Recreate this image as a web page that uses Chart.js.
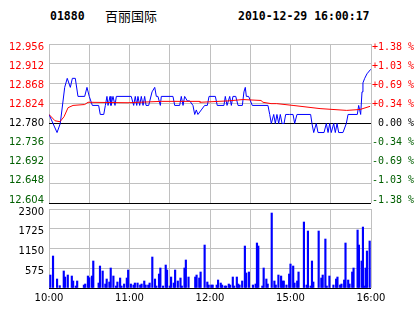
<html>
  <head>
    <title>01880</title>
    <style>
      body { margin: 0; background: #fff; }
      #wrap { position: relative; width: 414px; height: 314px; overflow: hidden; }
      .hdr {
        position: absolute; top: 9px; line-height: 15px;
        font-family: "DejaVu Sans Mono", monospace; font-weight: bold; font-size: 11.5px;
        color: #000; white-space: nowrap;
      }
      .name {
        position: absolute; top: 8px; left: 105px; line-height: 16px;
        font-family: "Noto Sans CJK SC", sans-serif; font-size: 13px; color: #000;
      }
      canvas { position: absolute; left: 0; }
      #priceChart { top: 0; }
      #volChart { top: 195px; }
    </style>
    <script src="https://cdn.jsdelivr.net/npm/chart.js"></script>
  </head>
  <body>
    <div id="wrap">
      <div class="hdr" style="left:50px">01880</div>
      <div class="name">百丽国际</div>
      <div class="hdr" style="left:238px">2010-12-29 16:00:17</div>
      <canvas id="priceChart" width="414" height="215"></canvas>
      <canvas id="volChart" width="414" height="119"></canvas>
    </div>

    <script>
      // trading minutes from 10:00 (0) to 16:00 (240), lunch break removed
      const prevClose = 12.78;
      const priceTicks = [12.604, 12.648, 12.692, 12.736, 12.780, 12.824, 12.868, 12.912, 12.956];
      const pctLabels = ["-1.38 %", "-1.03 %", "-0.69 %", "-0.34 %", " 0.00 %", "+0.34 %", "+0.69 %", "+1.03 %", "+1.38 %"];
      const timeTicks = [0, 60, 120, 180, 240];
      const timeLabels = ["10:00", "11:00", "12:00", "15:00", "16:00"];
      const volTicks = [0, 575, 1150, 1725, 2300];

      // price line (minute, price)
      const priceMin = [0, 6, 8.4, 11.7, 13.6, 15.9, 17.4, 19.6, 21.6, 26.6, 28.3, 30, 32.3, 37, 38.2, 40.8, 42, 43.2, 44, 45.5, 46.2, 47.7, 49.2, 50.2,
        61.3, 63.1, 64.3, 65.4, 66.3, 67.6, 68.8, 70.1, 71.3, 72.3, 74.3, 76.8, 78.8, 80, 81.2, 83, 83.7, 92.4, 93.7, 97.4, 98.6, 99.9, 101.1,
        103.1, 104.9, 107.3, 108.6, 109.8, 111, 113.5, 116, 118, 119.3, 124, 125.4, 130.4, 131.4, 132.7, 134.7, 135.9, 137.1, 139.2, 140.9,
        144.1, 145.3, 146.3, 147.1, 148.8, 151.5, 163.2, 164.5, 165.7, 167.5, 168.7, 169.9, 171.2, 172.4, 173.7, 175.2, 176.4, 179.4, 181.9,
        183.1, 184.8, 195, 196, 197.3, 199.2, 200.5, 205, 206.7, 208, 209.2, 210.4, 212.2, 213.4, 214.7, 215.9, 219.1, 221.6, 222.9, 229.8,
        230.8, 232.3, 233.3, 234, 235.3, 237, 239.8];
      const priceVal = [12.80, 12.76, 12.78, 12.86, 12.88, 12.86, 12.88, 12.88, 12.84, 12.84, 12.86, 12.84, 12.82, 12.82, 12.80, 12.80, 12.82, 12.84, 12.82, 12.84, 12.82, 12.84, 12.82, 12.84,
        12.84, 12.82, 12.84, 12.82, 12.84, 12.82, 12.84, 12.82, 12.84, 12.82, 12.82, 12.85, 12.86, 12.84, 12.84, 12.82, 12.84, 12.84, 12.82, 12.82, 12.84, 12.82, 12.84,
        12.83, 12.83, 12.82, 12.80, 12.81, 12.80, 12.81, 12.82, 12.82, 12.84, 12.84, 12.82, 12.82, 12.84, 12.82, 12.84, 12.82, 12.84, 12.84, 12.82,
        12.82, 12.85, 12.86, 12.84, 12.84, 12.82, 12.82, 12.80, 12.78, 12.80, 12.78, 12.80, 12.78, 12.80, 12.78, 12.78, 12.80, 12.80, 12.80,
        12.78, 12.80, 12.80, 12.78, 12.76, 12.78, 12.76, 12.76, 12.78, 12.76, 12.78, 12.76, 12.78, 12.76, 12.78, 12.76, 12.76, 12.78, 12.80, 12.80,
        12.82, 12.80, 12.85, 12.87, 12.88, 12.89, 12.90];

      // average price line (minute, price)
      const avgMin = [0, 4.5, 8.2, 11.2, 14.2, 17.9, 26.6, 29.1, 58.9, 83.7, 112.3, 112.5, 133.4, 144.6, 158, 159.5, 165.5, 169.7, 181.9, 202, 221.9, 231.8, 239.3];
      const avgVal = [12.80, 12.786, 12.784, 12.795, 12.815, 12.82, 12.822, 12.827, 12.826, 12.829, 12.829, 12.827, 12.83, 12.833, 12.831, 12.827, 12.824, 12.824, 12.82, 12.813, 12.809, 12.811, 12.818];

      // volume bars (minute, shares)
      const volMin = [1, 3, 6, 8, 11, 12, 14, 17, 18, 20, 21, 26, 27, 29, 30, 32, 33, 37, 38, 40, 42, 43, 45, 46, 48, 50, 51, 53, 54, 56, 58, 59,
        61, 63, 64, 66, 68, 69, 71, 72, 74, 75, 77, 79, 80, 82, 83, 85, 87, 88, 90, 91, 93, 94, 96, 98, 99, 101, 102, 104, 109, 110, 112, 113,
        116, 118, 119, 121, 122, 125, 126, 128, 129, 131, 132, 134, 135, 137, 138, 140, 141, 142, 144, 146, 147, 149, 152, 154, 155, 156, 159,
        160, 162, 163, 166, 168, 169, 171, 173, 174, 175, 177, 179, 180, 182, 183, 185, 186, 190, 192, 193, 195, 196, 197, 201, 203, 204, 206,
        207, 209, 212, 214, 215, 217, 218, 220, 221, 223, 224, 226, 227, 230, 231, 233, 234, 235, 236, 237, 239];
      const volVal = [378, 931, 262, 68, 495, 320, 378, 349, 204, 58, 204, 87, 116, 349, 300, 349, 786, 145, 640, 495, 116, 262, 175, 582, 349, 58, 175, 291, 58, 116, 291, 524,
        116, 87, 145, 145, 87, 116, 204, 87, 87, 145, 902, 262, 58, 407, 582, 58, 669, 524, 58, 320, 145, 524, 204, 291, 58, 582, 815, 320, 320, 378, 291, 466,
        1251, 175, 87, 87, 87, 87, 233, 145, 87, 58, 58, 116, 87, 320, 58, 320, 116, 87, 204, 1222, 437, 466, 87, 116, 1310, 1222, 58,
        582, 262, 116, 2183, 204, 87, 378, 349, 204, 204, 87, 407, 698, 640, 145, 204, 466, 1921, 87, 1659, 58, 786, 175, 1659, 291, 378, 1426,
        58, 349, 87, 262, 320, 87, 116, 233, 1310, 233, 116, 466, 582, 1688, 1251, 786, 1775, 58, 582, 1077, 1368];

      const gridGray = "#c0c0c0";
      const upRed = "#ff0000";
      const downGreen = "#005f00";
      const near = (a, b) => Math.abs(a - b) < 1e-6;
      // labels sit a little inside the panel: a slightly wider range for the label axes
      const labelMin = 12.5971;
      const labelMax = 12.9629;

      function tickColor(v) {
        if (near(v, prevClose)) return "#000";
        return v > prevClose ? upRed : downGreen;
      }

      const xAxisBase = {
        type: "linear",
        min: 0,
        max: 240,
        offset: false,
        grid: { color: gridGray, drawTicks: false, offset: false },
        border: { display: false }
      };

      const setPriceTicks = (s) => { s.ticks = priceTicks.map((v) => ({ value: v })); };

      new Chart(document.getElementById("priceChart"), {
        type: "line",
        data: {
          datasets: [
            {
              data: avgMin.map((m, i) => ({ x: m, y: avgVal[i] })),
              borderColor: "#ff0000",
              borderWidth: 1,
              pointRadius: 0,
              tension: 0
            },
            {
              data: priceMin.map((m, i) => ({ x: m, y: priceVal[i] })),
              borderColor: "#0000ff",
              borderWidth: 1,
              pointRadius: 0,
              tension: 0
            }
          ]
        },
        options: {
          responsive: false,
          animation: false,
          devicePixelRatio: 1,
          layout: { padding: { top: 44, bottom: 12, left: 0, right: 0 } },
          plugins: { legend: { display: false }, tooltip: { enabled: false } },
          scales: {
            x: Object.assign({}, xAxisBase, {
              ticks: { display: false, stepSize: 30 },
              afterFit: (s) => { s.height = 0; }
            }),
            y: {
              position: "left",
              min: 12.604,
              max: 12.956,
              afterBuildTicks: setPriceTicks,
              afterFit: (s) => { s.width = 0; },
              grid: {
                drawTicks: false,
                color: (ctx) => {
                  const v = ctx.tick ? ctx.tick.value : 0;
                  return near(v, prevClose) || near(v, 12.604) ? "#000" : gridGray;
                }
              },
              border: { display: false },
              ticks: { display: false }
            },
            yl: {
              position: "left",
              min: labelMin,
              max: labelMax,
              afterBuildTicks: setPriceTicks,
              afterFit: (s) => { s.width = 49; },
              grid: { display: false, drawTicks: false },
              border: { display: false },
              ticks: {
                padding: 5,
                font: { family: "DejaVu Sans", size: 10 },
                color: (ctx) => tickColor(ctx.tick.value),
                callback: (v) => Number(v).toFixed(3)
              }
            },
            y2: {
              position: "right",
              min: labelMin,
              max: labelMax,
              afterBuildTicks: setPriceTicks,
              afterFit: (s) => { s.width = 43; },
              grid: { display: false, drawTicks: false },
              border: { display: false },
              ticks: {
                padding: 1,
                font: { family: "DejaVu Sans Mono", size: 10 },
                color: (ctx) => tickColor(ctx.tick.value),
                callback: (v, i) => pctLabels[i]
              }
            }
          }
        }
      });

      new Chart(document.getElementById("volChart"), {
        type: "bar",
        data: {
          datasets: [
            {
              data: volMin.map((m, i) => ({ x: m, y: volVal[i] })),
              backgroundColor: "#0000ff",
              barThickness: 1.5
            }
          ]
        },
        options: {
          responsive: false,
          animation: false,
          devicePixelRatio: 1,
          layout: { padding: { top: 14, bottom: 0, left: 0, right: 43 } },
          plugins: { legend: { display: false }, tooltip: { enabled: false } },
          scales: {
            x: Object.assign({}, xAxisBase, {
              afterFit: (s) => { s.height = 26; },
              ticks: {
                stepSize: 30,
                autoSkip: false,
                maxRotation: 0,
                padding: 4,
                color: "#000",
                font: { family: "DejaVu Sans", size: 10 },
                callback: (v) => {
                  const i = timeTicks.indexOf(v);
                  return i >= 0 ? timeLabels[i] : "";
                }
              }
            }),
            y: {
              min: 0,
              max: 2300,
              afterBuildTicks: (s) => { s.ticks = volTicks.map((v) => ({ value: v })); },
              afterFit: (s) => { s.width = 49; },
              grid: {
                drawTicks: false,
                color: (ctx) => (ctx.tick && ctx.tick.value === 0 ? "#000" : gridGray)
              },
              border: { display: false },
              ticks: {
                padding: 5,
                labelOffset: 3,
                color: "#000",
                font: { family: "DejaVu Sans", size: 10 },
                callback: (v) => (v === 0 ? "" : String(v))
              }
            }
          }
        }
      });
    </script>
  </body>
</html>
